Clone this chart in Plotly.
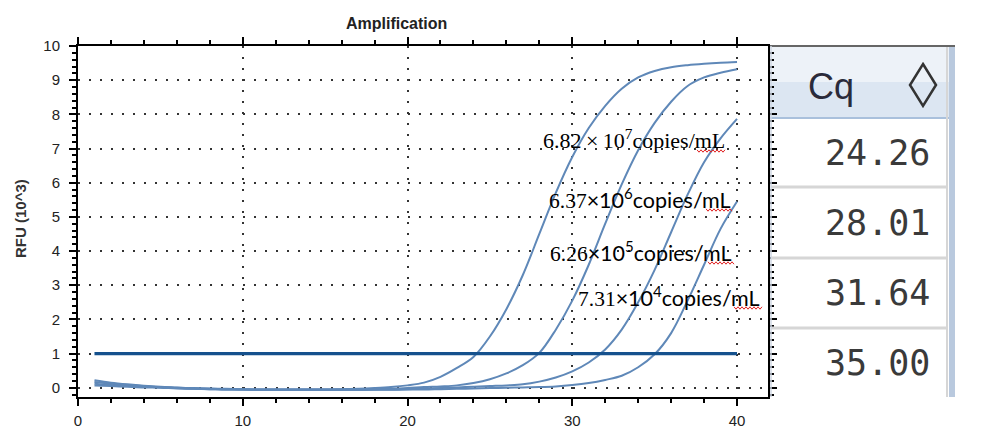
import plotly.graph_objects as go

# amplification data (RFU x10^3) per cycle
cycles = list(range(1, 41))

rfu_682e7 = [0.22, 0.15, 0.10, 0.06, 0.03, 0.01, -0.01, -0.02, -0.03, -0.04,
             -0.05, -0.05, -0.05, -0.05, -0.05, -0.04, -0.03, -0.01, 0.02, 0.07,
             0.15, 0.32, 0.58, 0.90, 1.50, 2.30, 3.30, 4.50, 5.70, 6.75,
             7.60, 8.25, 8.75, 9.08, 9.27, 9.38, 9.44, 9.48, 9.51, 9.53]
rfu_637e6 = [0.17, 0.12, 0.08, 0.05, 0.02, 0.00, -0.02, -0.03, -0.04, -0.05,
             -0.05, -0.05, -0.05, -0.05, -0.05, -0.05, -0.05, -0.04, -0.03, -0.01,
             0.02, 0.04, 0.07, 0.14, 0.25, 0.42, 0.66, 1.02, 1.70, 2.55,
             3.60, 4.80, 5.95, 6.95, 7.75, 8.37, 8.83, 9.08, 9.22, 9.32]
rfu_626e5 = [0.12, 0.08, 0.05, 0.03, 0.01, -0.01, -0.03, -0.04, -0.05, -0.05,
             -0.06, -0.06, -0.06, -0.06, -0.06, -0.06, -0.06, -0.05, -0.05, -0.04,
             -0.03, -0.01, 0.01, 0.03, 0.05, 0.07, 0.10, 0.18, 0.30, 0.48,
             0.74, 1.12, 1.70, 2.50, 3.45, 4.55, 5.65, 6.60, 7.30, 7.87]
rfu_731e4 = [0.07, 0.05, 0.03, 0.01, 0.00, -0.02, -0.03, -0.04, -0.05, -0.05,
             -0.06, -0.06, -0.06, -0.06, -0.06, -0.06, -0.06, -0.06, -0.06, -0.05,
             -0.05, -0.04, -0.03, -0.02, -0.01, 0.00, 0.01, 0.02, 0.04, 0.08,
             0.14, 0.23, 0.35, 0.60, 0.98, 1.60, 2.55, 3.60, 4.65, 5.45]
threshold = 1.0

series = [rfu_682e7, rfu_637e6, rfu_626e5, rfu_731e4]
labels = ['6.82\u2009×\u200910<sup>7</sup>copies/mL',
          '6.37<span style="font-family:Lato">×10<sup>6</sup>copies/mL</span>',
          '6.26<span style="font-family:Lato">×10<sup>5</sup>copies/mL</span>',
          '7.31<span style="font-family:Lato">×10<sup>4</sup>copies/mL</span>']
label_sizes = [22, 21.5, 21.5, 21.5]
label_pos = [(39.39, 7.27), (39.76, 5.55), (39.82, 4.0), (41.52, 2.66)]
cq_header = "Cq"
cq_values = ["24.26", "28.01", "31.64", "35.00"]

# plot area as it should land on screen; page body adds an 8px offset
L, R, T, B = 78, 768, 46, 397
OFF = 8
W, H = 986, 436


def px(x):
    return (x - L) / (R - L)


def py(y):
    return (B - y) / (B - T)


def squiggle(x0, x1, y):
    # red spell-check wave under "mL"
    pts = []
    x, up = x0, True
    while x <= x1:
        pts.append((px(x), py(y - 1.2 if up else y + 1.2)))
        x += 2
        up = not up
    return 'M ' + ' L '.join(f'{a} {b}' for a, b in pts)


fig = go.Figure()

for ys in series:
    fig.add_trace(go.Scatter(x=cycles, y=ys, mode='lines', line_shape='spline',
                             line=dict(color='#5f88b8', width=2), hoverinfo='skip'))

fig.add_trace(go.Scatter(x=[cycles[0], cycles[-1]], y=[threshold, threshold], mode='lines',
                         line=dict(color='#15518d', width=3.2), hoverinfo='skip'))

for txt, size, (ax, ay) in zip(labels, label_sizes, label_pos):
    fig.add_annotation(x=ax, y=ay, text=txt, showarrow=False, xanchor='right', yanchor='middle',
                       font=dict(family='Liberation Serif', size=size, color='black'))

# title and y label
fig.add_annotation(x=px(396), y=py(24), xref='paper', yref='paper', text='<b>Amplification</b>',
                   showarrow=False, xanchor='center', yanchor='middle',
                   font=dict(family='Liberation Sans', size=16, color='#222'))
fig.add_annotation(x=px(21), y=py(219), xref='paper', yref='paper', text='<b>RFU (10^3)</b>',
                   textangle=-90, showarrow=False, xanchor='center', yanchor='middle',
                   font=dict(family='Liberation Sans', size=15, color='#333'))

shapes = []
for sx0, sx1, sy in [(697, 726, 151), (706, 733, 210), (708, 734, 263), (734, 762, 308)]:
    shapes.append(dict(type='path', xref='paper', yref='paper', path=squiggle(sx0, sx1, sy),
                       line=dict(color='#e02020', width=1)))

# Cq table on the right
shapes.append(dict(type='rect', xref='paper', yref='paper', x0=px(770), x1=px(949), y0=py(82), y1=py(46),
                   fillcolor='#edf2f8', line=dict(width=0), layer='below'))
shapes.append(dict(type='rect', xref='paper', yref='paper', x0=px(770), x1=px(949), y0=py(118), y1=py(82),
                   fillcolor='#dce6f2', line=dict(width=0), layer='below'))
shapes.append(dict(type='line', xref='paper', yref='paper', x0=px(770), x1=px(949), y0=py(118), y1=py(118),
                   line=dict(color='#a9c0dc', width=2)))
shapes.append(dict(type='line', xref='paper', yref='paper', x0=px(770), x1=px(955), y0=py(46), y1=py(46),
                   line=dict(color='#666', width=2)))
for yy in [187, 258, 328]:
    shapes.append(dict(type='line', xref='paper', yref='paper', x0=px(771), x1=px(947), y0=py(yy), y1=py(yy),
                       line=dict(color='#d6d6d6', width=3)))
shapes.append(dict(type='line', xref='paper', yref='paper', x0=px(771), x1=px(771), y0=py(397), y1=py(46),
                   line=dict(color='#d0d8e4', width=1.5)))
shapes.append(dict(type='line', xref='paper', yref='paper', x0=px(947), x1=px(947), y0=py(397), y1=py(47),
                   line=dict(color='#d6d6d6', width=2)))
shapes.append(dict(type='rect', xref='paper', yref='paper', x0=px(949), x1=px(955), y0=py(397), y1=py(47),
                   fillcolor='#b9c9de', line=dict(width=0)))
# sort diamond in header
shapes.append(dict(type='path', xref='paper', yref='paper',
                   path=f'M {px(923)} {py(64)} L {px(936)} {py(85)} L {px(923)} {py(106)} L {px(910)} {py(85)} Z',
                   line=dict(color='#333', width=2.5)))

fig.add_annotation(x=px(831), y=py(87), xref='paper', yref='paper', text=cq_header, showarrow=False,
                   xanchor='center', yanchor='middle',
                   font=dict(family='Liberation Sans', size=36, color='#2a2a3a'))
for i, v in enumerate(cq_values):
    fig.add_annotation(x=px(932), y=py(153 + i * 70), xref='paper', yref='paper', text=v,
                       showarrow=False, xanchor='right', yanchor='middle',
                       font=dict(family='DejaVu Sans Mono', size=35, color='#3a3a3a'))

axis_font = dict(family='Liberation Sans', size=15, color='#222')
fig.update_layout(
    width=W, height=H,
    margin=dict(l=L - OFF, r=W - (R - OFF), t=T - OFF, b=H - (B - OFF), autoexpand=False),
    paper_bgcolor='white', plot_bgcolor='white',
    showlegend=False,
    shapes=shapes,
    xaxis=dict(range=[0, 41.88], tickvals=[0, 10, 20, 30, 40], ticks='outside', ticklen=7,
               tickwidth=2, tickcolor='black', showline=True, linecolor='black', linewidth=2,
               mirror='allticks', showgrid=True, gridcolor='#333', gridwidth=1.5, griddash='2px,9px',
               zeroline=False, tickfont=axis_font, ticklabelstandoff=2, automargin=False,
               minor=dict(dtick=2, ticks='outside', ticklen=4, tickcolor='black', showgrid=False)),
    yaxis=dict(range=[-0.27, 10], dtick=1, ticks='outside', ticklen=7, tickwidth=2, tickcolor='black',
               showline=True, linecolor='black', linewidth=2, mirror='allticks', showgrid=True,
               gridcolor='#333', gridwidth=1.5, griddash='2px,9px', zeroline=False,
               tickfont=axis_font, ticklabelstandoff=6, automargin=False,
               minor=dict(dtick=0.2, ticks='outside', ticklen=4, tickcolor='black', showgrid=False)),
)

fig.write_html("out.html")
